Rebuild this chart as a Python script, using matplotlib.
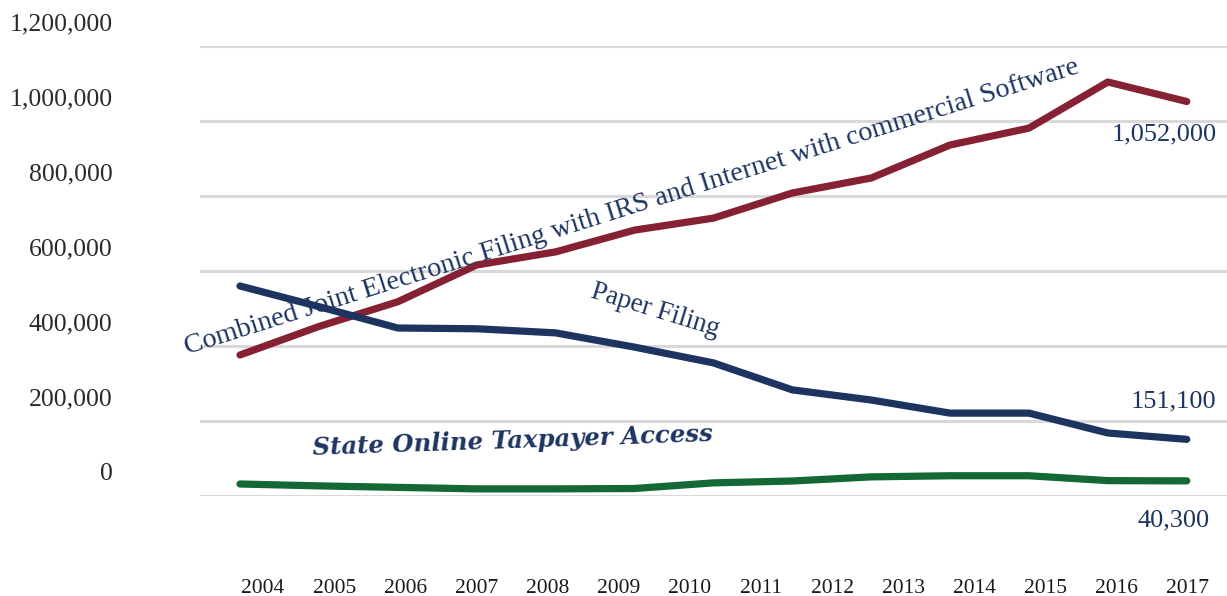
import matplotlib.pyplot as plt
from matplotlib.ticker import FuncFormatter
from matplotlib.transforms import ScaledTranslation

years = ['2004', '2005', '2006', '2007', '2008', '2009', '2010',
         '2011', '2012', '2013', '2014', '2015', '2016', '2017']

# 13 reported points per series
joint_efile = [376000, 452000, 518000, 616000, 651000, 709000, 741000,
               808000, 848000, 936000, 981000, 1104000, 1052000]
paper = [560000, 505000, 448000, 446000, 435000, 397000, 355000,
         283000, 256000, 221000, 221000, 168000, 151100]
online = [32000, 27000, 23000, 19000, 19000, 20000, 35000,
          40000, 51000, 54000, 54000, 41000, 40300]

RED = '#862033'
NAVY = '#1d3461'
GREEN = '#136836'
SERIF = 'Liberation Serif'

fig = plt.figure(figsize=(12.27, 5.96), dpi=100)
ax = fig.add_axes([200 / 1227, 100 / 596, 1027 / 1227, 450 / 596])

x = list(range(len(paper)))
ax.plot(x, joint_efile, color=RED, lw=5.2, solid_capstyle='round', solid_joinstyle='round', zorder=3)
ax.plot(x, paper, color=NAVY, lw=5.2, solid_capstyle='round', solid_joinstyle='round', zorder=3)
ax.plot(x, online, color=GREEN, lw=5.2, solid_capstyle='round', solid_joinstyle='round', zorder=3)

ax.set_ylim(0, 1200000)
ax.set_xlim(-0.507, 12.51)
ax.set_yticks(range(0, 1200001, 200000))
ax.yaxis.set_major_formatter(FuncFormatter(lambda v, p: f'{int(v):,}'))
# year labels are spread evenly under the plot
ax.set_xticks([(23 + 71.15 * j) / 78.9 for j in range(len(years))])
ax.set_xticklabels(years)

ax.grid(axis='y', color='#d9d9d9', lw=2.2, zorder=0)
ax.grid(axis='x', visible=False)
for s in ax.spines.values():
    s.set_visible(False)
ax.tick_params(axis='y', length=0, pad=63, labelsize=18.5, labelcolor='#2a2a2a')
ax.tick_params(axis='x', length=0, pad=60, labelsize=15.5, labelcolor='#1a1a1a')
for lab in ax.get_xticklabels() + ax.get_yticklabels():
    lab.set_fontfamily(SERIF)
# value labels sit a little above their gridlines
lift = ScaledTranslation(0, 0.24, fig.dpi_scale_trans)
for lab in ax.get_yticklabels():
    lab.set_transform(lab.get_transform() + lift)

ax.text(4.97, 771000, 'Combined Joint Electronic Filing with IRS and Internet with commercial Software',
        family=SERIF, fontsize=20.3, color=NAVY, rotation=17.5, rotation_mode='anchor',
        ha='center', va='center', zorder=4)
ax.text(5.26, 496000, 'Paper Filing', family=SERIF, fontsize=19.5, color=NAVY,
        rotation=-17, rotation_mode='anchor', ha='center', va='center', zorder=4)
ax.text(3.46, 147000, 'State Online Taxpayer Access', family='DejaVu Serif',
        fontweight='bold', style='italic', fontsize=17.6, color=NAVY,
        rotation=2, rotation_mode='anchor', ha='center', va='center', zorder=4)

ax.text(11.71, 963000, f'{joint_efile[-1]:,}', family=SERIF, fontsize=19, color=NAVY,
        ha='center', va='center')
ax.text(11.83, 251000, f'{paper[-1]:,}', family=SERIF, fontsize=19, color=NAVY,
        ha='center', va='center')
ax.text(11.83, -64000, f'{online[-1]:,}', family=SERIF, fontsize=19, color=NAVY,
        ha='center', va='center', clip_on=False)

fig.savefig('out.png', dpi=100, facecolor='white')
